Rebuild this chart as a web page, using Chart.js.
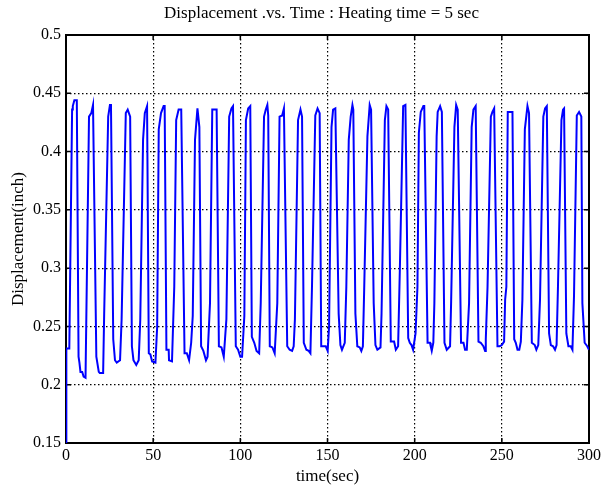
<!DOCTYPE html>
<html>
<head>
<meta charset="utf-8">
<script src="https://cdn.jsdelivr.net/npm/chart.js@4.4.0/dist/chart.umd.min.js"></script>
<style>
  body { margin: 0; background: #fff; }
  canvas { display: block; }
</style>
</head>
<body>
<canvas id="myChart" width="604" height="488"></canvas>
<script>
// Tempo (s) e deslocamento (pol)
const times = [
  0, 0.2, 1.9, 3.5, 3.9, 4.8, 6.2, 7.2, 7.7, 8.3, 9.3, 10.1, 11.2,
  13.2, 14.5, 15.5, 15.8, 17.4, 18.8, 19.4, 21.3,
  21.9, 24.2, 25.2, 25.8, 27.1, 28.1, 29.1, 31.0,
  31.9, 34.3, 35.4, 36.8, 37.8, 38.7, 40.3, 41.7,
  42.6, 44.2, 45.2, 46.5, 47.5, 48.4, 49.4, 51.3,
  52.3, 53.2, 54.5, 56.0, 56.6, 57.6, 58.9, 59.1, 60.8,
  62.1, 63.2, 64.6, 66.1, 68.0, 69.3, 70.6, 71.8,
  72.7, 74.0, 75.4, 76.5, 77.5, 78.8, 80.3, 81.2,
  82.6, 83.9, 86.4, 87.7, 89.2, 90.5,
  92.0, 93.6, 94.9, 95.8, 97.4, 98.7, 100.0, 101.0,
  102.3, 103.2, 104.5, 105.7, 106.6, 108.0, 109.3, 110.8,
  111.7, 113.6, 114.6, 115.5, 116.0, 116.9, 118.4, 119.7,
  121.2, 122.5, 124.0, 125.0, 126.9, 128.3, 129.7, 130.6,
  131.3, 133.1, 134.5, 135.4, 136.4, 137.9, 139.2, 140.2,
  141.1, 143.0, 144.3, 145.5, 146.4, 149.0, 150.1,
  150.9, 152.3, 153.2, 154.5, 156.4, 157.4, 158.3, 159.9,
  160.8, 162.2, 163.3, 164.3, 164.8, 166.0, 167.1, 168.5, 169.4, 170.3,
  171.0, 172.9, 174.2, 175.0, 176.5, 177.5, 178.6, 180.4,
  181.0, 182.9, 183.8, 184.8, 186.3, 188.2, 189.2, 190.5,
  191.5, 193.4, 194.7, 196.3, 197.2, 198.2, 199.1, 200.5,
  201.6, 202.4, 203.5, 205.0, 205.5, 207.4, 208.8, 209.2, 209.8, 210.7,
  211.3, 212.6, 213.2, 214.6, 215.6, 217.1, 218.4, 220.3,
  220.9, 222.8, 223.8, 224.7, 226.6, 228.0, 228.9, 229.9,
  231.2, 232.7, 233.7, 235.0, 236.6, 237.9, 239.4, 240.4, 240.8,
  241.8, 243.7, 244.6, 245.6, 247.5, 248.8, 250.0, 251.3,
  251.9, 252.6, 253.4, 256.1, 257.1, 258.0, 259.0, 260.0, 260.9,
  261.8, 263.2, 264.7, 265.6, 267.2, 268.9, 269.8, 270.9,
  271.9, 273.8, 274.8, 275.8, 277.1, 278.1, 279.4, 280.5, 281.4,
  282.2, 284.2, 285.1, 285.7, 287.0, 288.2, 289.5, 290.5,
  291.4, 293.0, 294.3, 295.6, 296.2, 297.5, 299.0, 300.0
];
const displacement = [
  0.150, 0.231, 0.231, 0.436, 0.439, 0.444, 0.444, 0.224, 0.219, 0.211, 0.211, 0.207, 0.206,
  0.430, 0.433, 0.440, 0.440, 0.224, 0.211, 0.210, 0.210,
  0.261, 0.430, 0.440, 0.440, 0.239, 0.221, 0.219, 0.221,
  0.256, 0.433, 0.436, 0.430, 0.233, 0.221, 0.217, 0.221,
  0.256, 0.410, 0.433, 0.439, 0.227, 0.226, 0.220, 0.219,
  0.250, 0.419, 0.433, 0.439, 0.439, 0.230, 0.230, 0.221, 0.220,
  0.284, 0.427, 0.436, 0.436, 0.227, 0.227, 0.221, 0.236,
  0.259, 0.410, 0.437, 0.421, 0.233, 0.229, 0.221, 0.224,
  0.270, 0.436, 0.436, 0.233, 0.232, 0.224,
  0.256, 0.430, 0.437, 0.439, 0.233, 0.230, 0.224, 0.224,
  0.259, 0.427, 0.437, 0.439, 0.241, 0.236, 0.229, 0.227,
  0.270, 0.430, 0.436, 0.440, 0.431, 0.233, 0.232, 0.227,
  0.270, 0.430, 0.431, 0.437, 0.233, 0.230, 0.229, 0.233,
  0.256, 0.427, 0.436, 0.430, 0.236, 0.230, 0.229, 0.227,
  0.284, 0.431, 0.437, 0.433, 0.233, 0.233, 0.229,
  0.250, 0.421, 0.436, 0.437, 0.261, 0.234, 0.230, 0.236,
  0.284, 0.410, 0.430, 0.440, 0.436, 0.261, 0.233, 0.232, 0.229, 0.233,
  0.279, 0.413, 0.440, 0.436, 0.270, 0.234, 0.230, 0.232,
  0.261, 0.427, 0.439, 0.436, 0.237, 0.237, 0.230, 0.233,
  0.299, 0.439, 0.440, 0.240, 0.236, 0.234, 0.230, 0.244,
  0.284, 0.416, 0.434, 0.439, 0.439, 0.236, 0.236, 0.233, 0.229, 0.236,
  0.270, 0.413, 0.434, 0.439, 0.434, 0.236, 0.230, 0.233,
  0.270, 0.421, 0.440, 0.436, 0.236, 0.236, 0.230, 0.230,
  0.270, 0.421, 0.436, 0.439, 0.237, 0.236, 0.233, 0.229, 0.239,
  0.284, 0.430, 0.434, 0.437, 0.233, 0.233, 0.234, 0.237,
  0.273, 0.284, 0.434, 0.434, 0.239, 0.236, 0.230, 0.230, 0.237,
  0.273, 0.419, 0.439, 0.433, 0.236, 0.234, 0.230, 0.234,
  0.273, 0.430, 0.437, 0.439, 0.244, 0.234, 0.233, 0.230, 0.234,
  0.284, 0.427, 0.436, 0.437, 0.244, 0.233, 0.233, 0.230,
  0.276, 0.431, 0.434, 0.430, 0.270, 0.236, 0.233, 0.230
];

// Marcas dos eixos
const xTicks = [0, 50, 100, 150, 200, 250, 300];
const yTicks = [0.15, 0.2, 0.25, 0.3, 0.35, 0.4, 0.45, 0.5];

const serif = 'Liberation Serif, Times New Roman, serif';

// Caixa dos eixos, marcas internas e título (estilo MATLAB)
const matlabBox = {
    id: 'matlabBox',
    beforeDatasetsDraw(chart) {
        const { ctx, chartArea: a, scales } = chart;
        ctx.save();
        ctx.strokeStyle = '#000';
        ctx.lineWidth = 1.5;
        ctx.beginPath();
        xTicks.forEach(v => {
            const px = scales.x.getPixelForValue(v);
            ctx.moveTo(px, a.bottom); ctx.lineTo(px, a.bottom - 5);
            ctx.moveTo(px, a.top); ctx.lineTo(px, a.top + 5);
        });
        yTicks.forEach(v => {
            const py = scales.y.getPixelForValue(v);
            ctx.moveTo(a.left, py); ctx.lineTo(a.left + 5, py);
            ctx.moveTo(a.right, py); ctx.lineTo(a.right - 5, py);
        });
        ctx.stroke();
        ctx.lineWidth = 2;
        ctx.strokeRect(a.left, a.top, a.right - a.left, a.bottom - a.top);
        ctx.restore();
    },
    afterDraw(chart) {
        const { ctx, chartArea: a } = chart;
        ctx.save();
        ctx.fillStyle = '#000';
        ctx.font = '17px ' + serif;
        ctx.textAlign = 'center';
        ctx.textBaseline = 'middle';
        ctx.fillText('Displacement .vs. Time : Heating time = 5 sec', (a.left + a.right) / 2 - 6, 14);
        ctx.restore();
    }
};

const ctx = document.getElementById('myChart').getContext('2d');
const myChart = new Chart(ctx, {
    type: 'line',
    data: {
        datasets: [{
            data: times.map((t, i) => ({ x: t, y: displacement[i] })),
            borderColor: 'rgb(0, 0, 255)',
            borderWidth: 2,
            pointRadius: 0,
            tension: 0,
            fill: false
        }]
    },
    options: {
        responsive: false,
        animation: false,
        devicePixelRatio: 1,
        layout: { padding: { top: 35, right: 14, left: 0, bottom: 0 } },
        plugins: {
            legend: { display: false },
            tooltip: { enabled: false }
        },
        scales: {
            x: {
                type: 'linear',
                min: 0,
                max: 300,
                afterBuildTicks: s => { s.ticks = xTicks.map(v => ({ value: v })); },
                afterFit: s => { s.height = 45; },
                grid: { color: '#000', lineWidth: 1.2, drawTicks: false },
                border: { display: false, dash: [1.5, 2.5] },
                ticks: {
                    color: '#000',
                    padding: 3,
                    maxRotation: 0,
                    font: { family: serif, size: 16 },
                    callback: v => String(v)
                },
                title: {
                    display: true,
                    text: 'time(sec)',
                    color: '#000',
                    font: { family: serif, size: 17 },
                    padding: { top: 0, bottom: 1 }
                }
            },
            y: {
                min: 0.15,
                max: 0.5,
                afterBuildTicks: s => { s.ticks = yTicks.map(v => ({ value: v })); },
                afterFit: s => { s.width = 66; },
                grid: { color: '#000', lineWidth: 1.2, drawTicks: false },
                border: { display: false, dash: [1.5, 2.5] },
                ticks: {
                    color: '#000',
                    padding: 5,
                    font: { family: serif, size: 16 },
                    callback: v => String(v)
                },
                title: {
                    display: true,
                    text: 'Displacement(inch)',
                    color: '#000',
                    font: { family: serif, size: 17 },
                    padding: { top: 8, bottom: 0 }
                }
            }
        }
    },
    plugins: [matlabBox]
});
</script>
</body>
</html>
